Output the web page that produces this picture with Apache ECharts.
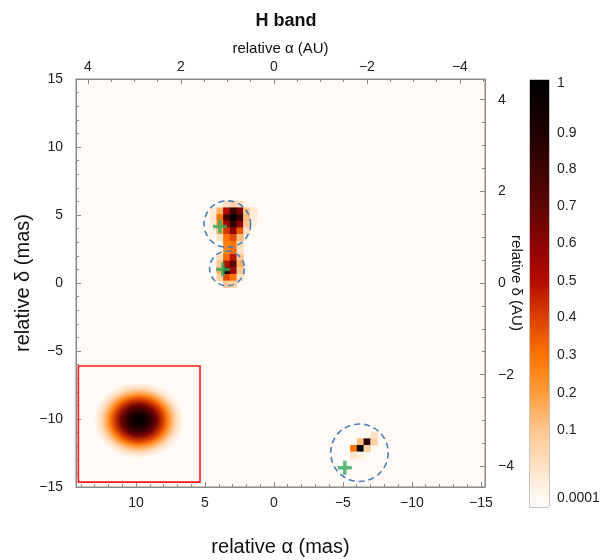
<!DOCTYPE html>
<html><head><meta charset="utf-8">
<script src="https://cdn.jsdelivr.net/npm/echarts@6/dist/echarts.min.js"></script>
<style>html,body{margin:0;padding:0;background:#fff}#c{width:607px;height:560px}</style>
</head><body><div id="c"></div>
<script>
const FONT = '"Liberation Sans", Arial, sans-serif';
// ---- data ----
const MAS_PER_AU = 3.37;
const xRangeMas = [-15.3, 14.35];
const yRangeMas = [-15, 15];
const cellSize = 0.485;
// colour scale (value -> colour)
const cmapValues = [0, 0.1, 0.2, 0.3, 0.4, 0.5, 0.6, 0.7, 0.8, 0.9, 1];
const cmapColors = ['#fffaf5','#ffc68f','#ff9c3a','#ff7400','#d94000','#b40c00','#8c0303','#5e0505','#3c0303','#1e0101','#000000'];
// colour bar tick labels and their positions along the bar (fraction from bottom)
const cbLabels = ['0.0001','0.1','0.2','0.3','0.4','0.5','0.6','0.7','0.8','0.9','1'];
const cbPos = [0.02, 0.18, 0.267, 0.356, 0.445, 0.529, 0.618, 0.705, 0.792, 0.876, 0.993];
// reconstructed image pixels: [x (mas), y (mas), intensity]
const pixelsAB = [
  [3.42,5.78,0.05],[2.94,5.78,0.08],[2.45,5.78,0.05],
  [4.39,5.29,0.03],[3.90,5.29,0.15],[3.42,5.29,0.50],[2.94,5.29,0.80],[2.45,5.29,0.65],[1.97,5.29,0.10],[1.48,5.29,0.03],
  [4.39,4.80,0.04],[3.90,4.80,0.30],[3.42,4.80,0.75],[2.94,4.80,1.00],[2.45,4.80,0.80],[1.97,4.80,0.12],[1.48,4.80,0.03],
  [4.39,4.31,0.03],[3.90,4.31,0.25],[3.42,4.31,0.55],[2.94,4.31,0.85],[2.45,4.31,0.60],[1.97,4.31,0.10],[1.48,4.31,0.02],
  [4.39,3.82,0.02],[3.90,3.82,0.15],[3.42,3.82,0.42],[2.94,3.82,0.60],[2.45,3.82,0.35],[1.97,3.82,0.05],
  [3.90,3.33,0.05],[3.42,3.33,0.30],[2.94,3.33,0.38],[2.45,3.33,0.12],
  [3.42,2.84,0.27],[2.94,2.84,0.30],[2.45,2.84,0.06],
  [3.42,2.36,0.25],[2.94,2.36,0.32],[2.45,2.36,0.05],
  [3.90,1.87,0.06],[3.42,1.87,0.32],[2.94,1.87,0.48],[2.45,1.87,0.10],
  [3.90,1.38,0.10],[3.42,1.38,0.50],[2.94,1.38,0.70],[2.45,1.38,0.15],
  [3.90,0.89,0.15],[3.42,0.89,0.90],[2.94,0.89,0.55],[2.45,0.89,0.10],
  [3.90,0.40,0.08],[3.42,0.40,0.38],[2.94,0.40,0.30],[2.45,0.40,0.05],
  [3.42,-0.09,0.10],[2.94,-0.09,0.08]
];
const pixelsC = [
  [-7.25,-11.20,0.05],
  [-6.27,-11.69,0.12],[-6.76,-11.69,0.85],[-7.25,-11.69,0.08],
  [-5.79,-12.18,0.30],[-6.27,-12.18,1.00],[-6.76,-12.18,0.08],
  [-5.79,-12.66,0.04],[-6.27,-12.66,0.02]
];
// PSF inset: centre x, centre y, outer radius x, outer radius y (mas)
const psf = [[9.8, -10.1, 3.25, 2.8]];
const psfProfilePos = [0, 0.12, 0.25, 0.4, 0.55, 0.65, 0.75, 0.85, 1];
const psfProfileVal = [1, 0.96, 0.85, 0.65, 0.4, 0.26, 0.13, 0.05, 0];
const insetBox = [[14.18, -6.1, 5.36, -14.64]];
// dashed circles: centre x, centre y, radius (mas)
const circles = [[3.38, 4.33, 1.7], [3.4, 1.07, 1.27], [-6.2, -12.48, 2.1]];
// green crosses (mas)
const crossX = [3.7, 3.91, -5.14];
const crossY = [0.99, 4.16, -13.59];
// component labels
const compNames = ['A', 'B', 'C'];
const compX = [5.87, 3.04, -8.99];
const compY = [-1.95, 7.33, -9.9];

// ---- helpers ----
function hex2rgb(h){return [parseInt(h.slice(1,3),16),parseInt(h.slice(3,5),16),parseInt(h.slice(5,7),16)];}
function cmap(v){
  v = Math.max(0, Math.min(1, v));
  for (let i = 1; i < cmapValues.length; i++) {
    if (v <= cmapValues[i]) {
      const t = (v - cmapValues[i-1]) / (cmapValues[i] - cmapValues[i-1]);
      const a = hex2rgb(cmapColors[i-1]), b = hex2rgb(cmapColors[i]);
      return 'rgb(' + a.map((x,k)=>Math.round(x + (b[k]-x)*t)).join(',') + ')';
    }
  }
  return cmapColors[cmapColors.length-1];
}
const fmt = v => (v < 0 ? '\u2212' : '') + Math.abs(v);
const GRAY = '#8a8a8a';
function axisBase(extra){
  return Object.assign({
    type:'value', gridIndex:0, nameMoveOverlap:false,
    axisLine:{show:true, onZero:false, lineStyle:{color:GRAY}},
    axisTick:{show:true, inside:true, length:5, lineStyle:{color:GRAY}},
    minorTick:{show:true, splitNumber:5, length:3, lineStyle:{color:GRAY}},
    splitLine:{show:false}, minorSplitLine:{show:false},
    axisLabel:{color:'#222', fontSize:14, fontFamily:FONT, formatter:fmt},
    nameTextStyle:{color:'#111', fontFamily:FONT}
  }, extra);
}

const pixelRender = function(params, api){
  const c = api.coord([api.value(0), api.value(1)]);
  const s = api.size([cellSize, cellSize]);
  const w = Math.abs(s[0]), h = Math.abs(s[1]);
  return {type:'rect', shape:{x:c[0]-w/2-0.3, y:c[1]-h/2-0.3, width:w+0.6, height:h+0.6},
          style:{fill:cmap(api.value(2))}};
};

const chart = echarts.init(document.getElementById('c'), null, {renderer:'canvas'});
chart.setOption({
  animation:false,
  backgroundColor:'#ffffff',
  title:{text:'H band', left:281, textAlign:'center', top:7,
    textStyle:{fontFamily:FONT, fontSize:18, fontWeight:'bold', color:'#111'}},
  grid:[
    {left:76, top:79, width:409, height:408, show:true, outerBoundsMode:'none', containLabel:false,
     backgroundColor:cmapColors[0], borderColor:GRAY, borderWidth:1},
    {left:530, top:80, width:19, height:427, show:true, outerBoundsMode:'none', containLabel:false,
     borderColor:GRAY, borderWidth:1}
  ],
  xAxis:[
    axisBase({min:xRangeMas[0], max:xRangeMas[1], inverse:true, position:'bottom',
      name:'relative \u03b1 (mas)', nameLocation:'middle', nameGap:50,
      nameTextStyle:{fontSize:20, color:'#111', fontFamily:FONT},
      axisLabel:{color:'#222', fontSize:14, fontFamily:FONT, formatter:fmt, margin:9, showMinLabel:false, showMaxLabel:false}}),
    axisBase({min:xRangeMas[0]/MAS_PER_AU, max:xRangeMas[1]/MAS_PER_AU, inverse:true, position:'top',
      name:'relative \u03b1 (AU)', nameLocation:'middle', nameGap:23,
      nameTextStyle:{fontSize:15, color:'#111', fontFamily:FONT},
      minorTick:{show:true, splitNumber:4, length:3, lineStyle:{color:GRAY}},
      axisLabel:{color:'#222', fontSize:14, fontFamily:FONT, formatter:fmt, margin:5, showMinLabel:false, showMaxLabel:false}}),
    {type:'value', gridIndex:1, min:0, max:1, show:false}
  ],
  yAxis:[
    axisBase({min:yRangeMas[0], max:yRangeMas[1], interval:5, position:'left',
      name:'relative \u03b4 (mas)', nameLocation:'middle', nameGap:43,
      nameTextStyle:{fontSize:20, color:'#111', fontFamily:FONT},
      axisLabel:{color:'#222', fontSize:14, fontFamily:FONT, formatter:fmt, margin:13}}),
    axisBase({min:yRangeMas[0]/MAS_PER_AU, max:yRangeMas[1]/MAS_PER_AU, position:'right',
      name:'relative \u03b4 (AU)', nameLocation:'middle', nameGap:24, nameRotate:-90,
      nameTextStyle:{fontSize:15, color:'#111', fontFamily:FONT},
      minorTick:{show:true, splitNumber:4, length:3, lineStyle:{color:GRAY}},
      axisLabel:{color:'#222', fontSize:14, fontFamily:FONT, formatter:fmt, margin:13, showMinLabel:false, showMaxLabel:false}}),
    {type:'value', gridIndex:1, min:0, max:1, position:'right',
      axisLine:{show:true, lineStyle:{color:GRAY}},
      axisTick:{show:true, inside:false, length:5, customValues:cbPos, lineStyle:{color:GRAY}},
      splitLine:{show:false},
      axisLabel:{customValues:cbPos, margin:8, color:'#222', fontSize:14, fontFamily:FONT,
        formatter:function(v){
          let best = 0;
          for (let i = 0; i < cbPos.length; i++) if (Math.abs(cbPos[i]-v) < Math.abs(cbPos[best]-v)) best = i;
          return cbLabels[best];
        }}}
  ],
  series:[
    {type:'custom', name:'AB', xAxisIndex:0, yAxisIndex:0, data:pixelsAB, renderItem:pixelRender, silent:true},
    {type:'custom', name:'C', xAxisIndex:0, yAxisIndex:0, data:pixelsC, renderItem:pixelRender, silent:true},
    {type:'custom', name:'PSF', xAxisIndex:0, yAxisIndex:0, data:psf, silent:true,
      renderItem:function(params, api){
        const c = api.coord([api.value(0), api.value(1)]);
        const s = api.size([api.value(2), api.value(3)]);
        const rx = Math.abs(s[0]), ry = Math.abs(s[1]);
        const stops = psfProfilePos.map((p,i)=>({offset:p, color:cmap(psfProfileVal[i])}));
        return {type:'circle', x:c[0], y:c[1], scaleX:rx/ry, scaleY:1,
          shape:{cx:0, cy:0, r:ry},
          style:{fill:new echarts.graphic.RadialGradient(0.5,0.5,0.5,stops)}};
      }},
    {type:'custom', name:'box', xAxisIndex:0, yAxisIndex:0, data:insetBox, silent:true,
      renderItem:function(params, api){
        const a = api.coord([api.value(0), api.value(1)]);
        const b = api.coord([api.value(2), api.value(3)]);
        return {type:'rect', shape:{x:Math.min(a[0],b[0]), y:Math.min(a[1],b[1]), width:Math.abs(b[0]-a[0]), height:Math.abs(b[1]-a[1])},
          style:{fill:null, stroke:'#ff1a1a', lineWidth:1.6}};
      }},
    {type:'custom', name:'circles', xAxisIndex:0, yAxisIndex:0, data:circles, silent:true,
      renderItem:function(params, api){
        const c = api.coord([api.value(0), api.value(1)]);
        const s = api.size([api.value(2), api.value(2)]);
        const r = (Math.abs(s[0]) + Math.abs(s[1]))/2;
        return {type:'circle', shape:{cx:c[0], cy:c[1], r:r},
          style:{fill:null, stroke:'#4a7ebb', lineWidth:1.6, lineDash:[6,4]}};
      }},
    {type:'scatter', name:'cross', xAxisIndex:0, yAxisIndex:0, silent:true,
      data:crossX.map((x,i)=>[x, crossY[i]]),
      symbol:'path://M3.75,0H6.25V3.75H10V6.25H6.25V10H3.75V6.25H0V3.75H3.75Z', symbolSize:14,
      itemStyle:{color:'#35a85a'}},
    {type:'scatter', name:'labels', xAxisIndex:0, yAxisIndex:0, silent:true,
      data:compNames.map((n,i)=>({name:n, value:[compX[i], compY[i]]})),
      symbolSize:1, itemStyle:{opacity:0},
      label:{show:true, position:'inside', formatter:'{b}', color:'#4f81bd', fontSize:23, fontWeight:'bold', fontFamily:FONT}},
    {type:'custom', name:'colorbar', xAxisIndex:2, yAxisIndex:2, data:[[0,0]], silent:true,
      renderItem:function(params, api){
        const p0 = api.coord([0,0]), p1 = api.coord([1,1]);
        const stops = cbPos.map((p,i)=>({offset:p, color:cmapColors[i]}));
        return {type:'rect', shape:{x:p0[0], y:p1[1], width:p1[0]-p0[0], height:p0[1]-p1[1]},
          style:{fill:new echarts.graphic.LinearGradient(0,1,0,0,stops)}};
      }}
  ]
});
</script></body></html>
